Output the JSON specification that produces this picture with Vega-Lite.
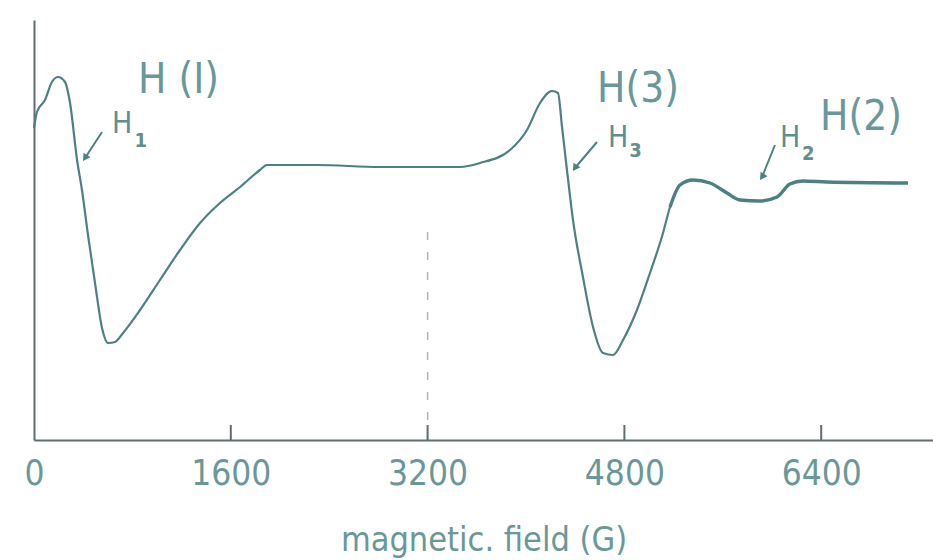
{
  "$schema": "https://vega.github.io/schema/vega-lite/v6.json",
  "width": 899,
  "height": 420,
  "autosize": {"type": "none"},
  "padding": {"left": 34, "top": 20, "right": 0, "bottom": 120},
  "background": "white",
  "config": {
    "view": {"stroke": null},
    "font": "DejaVu Sans Condensed, Liberation Sans, sans-serif",
    "axis": {"grid": false},
    "axisX": {
      "titleFont": "DejaVu Sans Condensed, Liberation Sans, sans-serif",
      "titleFontSize": 34,
      "titleFontWeight": "normal",
      "titleColor": "#6a9898",
      "titlePadding": 32,
      "labelFont": "DejaVu Sans Condensed, Liberation Sans, sans-serif",
      "labelFontSize": 35,
      "labelColor": "#6a9898",
      "labelPadding": 16,
      "labelFlush": false,
      "labelOverlap": false,
      "ticks": false,
      "domainColor": "#5f6e6e",
      "domainWidth": 2
    },
    "axisY": {
      "labels": false,
      "ticks": false,
      "domainColor": "#5f6e6e",
      "domainWidth": 2
    }
  },
  "datasets": {
    "curve": [
      {"field": 0, "signal": 312},
      {"field": 24, "signal": 328},
      {"field": 89, "signal": 340},
      {"field": 146, "signal": 358},
      {"field": 195, "signal": 363},
      {"field": 252, "signal": 358},
      {"field": 293, "signal": 337},
      {"field": 350, "signal": 280},
      {"field": 390, "signal": 250},
      {"field": 439, "signal": 205},
      {"field": 496, "signal": 157},
      {"field": 553, "signal": 112},
      {"field": 602, "signal": 97},
      {"field": 659, "signal": 98},
      {"field": 724, "signal": 107},
      {"field": 862, "signal": 130},
      {"field": 1024, "signal": 160},
      {"field": 1187, "signal": 190},
      {"field": 1350, "signal": 217},
      {"field": 1512, "signal": 237},
      {"field": 1675, "signal": 253},
      {"field": 1837, "signal": 270},
      {"field": 1894, "signal": 275},
      {"field": 2301, "signal": 275},
      {"field": 2813, "signal": 273},
      {"field": 3463, "signal": 273},
      {"field": 3626, "signal": 277},
      {"field": 3870, "signal": 290},
      {"field": 4008, "signal": 310},
      {"field": 4114, "signal": 337},
      {"field": 4211, "signal": 349},
      {"field": 4260, "signal": 347},
      {"field": 4293, "signal": 313},
      {"field": 4333, "signal": 270},
      {"field": 4382, "signal": 220},
      {"field": 4463, "signal": 163},
      {"field": 4545, "signal": 113},
      {"field": 4626, "signal": 87},
      {"field": 4707, "signal": 85},
      {"field": 4789, "signal": 100},
      {"field": 4902, "signal": 130},
      {"field": 5008, "signal": 167},
      {"field": 5114, "signal": 207},
      {"field": 5171, "signal": 233},
      {"field": 5252, "signal": 255},
      {"field": 5358, "signal": 260},
      {"field": 5496, "signal": 257},
      {"field": 5634, "signal": 247},
      {"field": 5740, "signal": 240},
      {"field": 5902, "signal": 239},
      {"field": 6041, "signal": 243},
      {"field": 6146, "signal": 256},
      {"field": 6252, "signal": 259},
      {"field": 6447, "signal": 258},
      {"field": 7106, "signal": 257}
    ],
    "ticks": [
      {"field": 1600, "lo": 0, "hi": 15},
      {"field": 3200, "lo": 0, "hi": 15},
      {"field": 4800, "lo": 0, "hi": 15},
      {"field": 6400, "lo": 0, "hi": 15}
    ],
    "marker": [
      {"field": 3200, "lo": 0, "hi": 215}
    ],
    "arrows": [
      {"x1": 553, "y1": 308, "x2": 415, "y2": 282},
      {"x1": 4577, "y1": 298, "x2": 4398, "y2": 272},
      {"x1": 6024, "y1": 295, "x2": 5919, "y2": 263}
    ],
    "labels": [
      {"field": 846, "signal": 347, "text": "H (I)", "role": "big"},
      {"field": 4577, "signal": 338, "text": "H(3)", "role": "big"},
      {"field": 6390, "signal": 310, "text": "H(2)", "role": "big"},
      {"field": 634, "signal": 307, "text": "H", "role": "h"},
      {"field": 4667, "signal": 293, "text": "H", "role": "h"},
      {"field": 6065, "signal": 293, "text": "H", "role": "h"},
      {"field": 817, "signal": 293, "text": "1", "role": "sub"},
      {"field": 4840, "signal": 283, "text": "3", "role": "sub"},
      {"field": 6244, "signal": 280, "text": "2", "role": "sub"}
    ]
  },
  "layer": [
    {
      "data": {"name": "marker"},
      "mark": {"type": "rule", "color": "#b5b5b5", "strokeWidth": 1.5, "strokeDash": [8, 12]},
      "encoding": {
        "x": {"field": "field", "type": "quantitative", "scale": {"domain": [0, 7309], "nice": false, "zero": false}, "title": "magnetic. field (G)", "axis": {"values": [0, 1600, 3200, 4800, 6400], "format": "d"}},
        "y": {"field": "lo", "type": "quantitative", "scale": {"domain": [0, 420], "nice": false}, "title": null},
        "y2": {"field": "hi"}
      }
    },
    {
      "data": {"name": "ticks"},
      "mark": {"type": "rule", "color": "#5f6e6e", "strokeWidth": 2},
      "encoding": {
        "x": {"field": "field", "type": "quantitative", "title": "magnetic. field (G)", "axis": {"values": [0, 1600, 3200, 4800, 6400], "format": "d"}},
        "y": {"field": "lo", "type": "quantitative", "title": null},
        "y2": {"field": "hi"}
      }
    },
    {
      "data": {"name": "curve"},
      "mark": {"type": "line", "color": "#4d8080", "strokeWidth": 2.2, "interpolate": "monotone"},
      "encoding": {
        "x": {"field": "field", "type": "quantitative", "title": "magnetic. field (G)", "axis": {"values": [0, 1600, 3200, 4800, 6400], "format": "d"}},
        "y": {"field": "signal", "type": "quantitative", "title": null}
      }
    },
    {
      "data": {"name": "curve"},
      "transform": [{"filter": "datum.field >= 5150"}],
      "mark": {"type": "line", "color": "#4d8080", "strokeWidth": 3.4, "interpolate": "monotone"},
      "encoding": {
        "x": {"field": "field", "type": "quantitative", "title": "magnetic. field (G)", "axis": {"values": [0, 1600, 3200, 4800, 6400], "format": "d"}},
        "y": {"field": "signal", "type": "quantitative", "title": null}
      }
    },
    {
      "data": {"name": "arrows"},
      "mark": {"type": "rule", "color": "#4d8080", "strokeWidth": 2},
      "encoding": {
        "x": {"field": "x1", "type": "quantitative", "title": "magnetic. field (G)", "axis": {"values": [0, 1600, 3200, 4800, 6400], "format": "d"}},
        "y": {"field": "y1", "type": "quantitative", "title": null},
        "x2": {"field": "x2"},
        "y2": {"field": "y2"}
      }
    },
    {
      "data": {"name": "arrows"},
      "mark": {"type": "point", "shape": "triangle-up", "filled": true, "color": "#4d8080", "size": 70, "angle": 214, "opacity": 1},
      "encoding": {
        "x": {"field": "x2", "type": "quantitative", "title": "magnetic. field (G)", "axis": {"values": [0, 1600, 3200, 4800, 6400], "format": "d"}},
        "y": {"field": "y2", "type": "quantitative", "title": null}
      }
    },
    {
      "data": {"name": "labels"},
      "transform": [{"filter": "datum.role == 'big'"}],
      "mark": {"type": "text", "align": "left", "baseline": "alphabetic", "fontSize": 42, "color": "#6a9898", "font": "DejaVu Sans Condensed, Liberation Sans, sans-serif"},
      "encoding": {
        "x": {"field": "field", "type": "quantitative", "title": "magnetic. field (G)", "axis": {"values": [0, 1600, 3200, 4800, 6400], "format": "d"}},
        "y": {"field": "signal", "type": "quantitative", "title": null},
        "text": {"field": "text"}
      }
    },
    {
      "data": {"name": "labels"},
      "transform": [{"filter": "datum.role == 'h'"}],
      "mark": {"type": "text", "align": "left", "baseline": "alphabetic", "fontSize": 30, "color": "#5f8f8f", "font": "DejaVu Sans Condensed, Liberation Sans, sans-serif"},
      "encoding": {
        "x": {"field": "field", "type": "quantitative", "title": "magnetic. field (G)", "axis": {"values": [0, 1600, 3200, 4800, 6400], "format": "d"}},
        "y": {"field": "signal", "type": "quantitative", "title": null},
        "text": {"field": "text"}
      }
    },
    {
      "data": {"name": "labels"},
      "transform": [{"filter": "datum.role == 'sub'"}],
      "mark": {"type": "text", "align": "left", "baseline": "alphabetic", "fontSize": 20, "color": "#5f8f8f", "font": "DejaVu Sans Condensed, Liberation Sans, sans-serif", "fontWeight": "bold"},
      "encoding": {
        "x": {"field": "field", "type": "quantitative", "title": "magnetic. field (G)", "axis": {"values": [0, 1600, 3200, 4800, 6400], "format": "d"}},
        "y": {"field": "signal", "type": "quantitative", "title": null},
        "text": {"field": "text"}
      }
    }
  ]
}
